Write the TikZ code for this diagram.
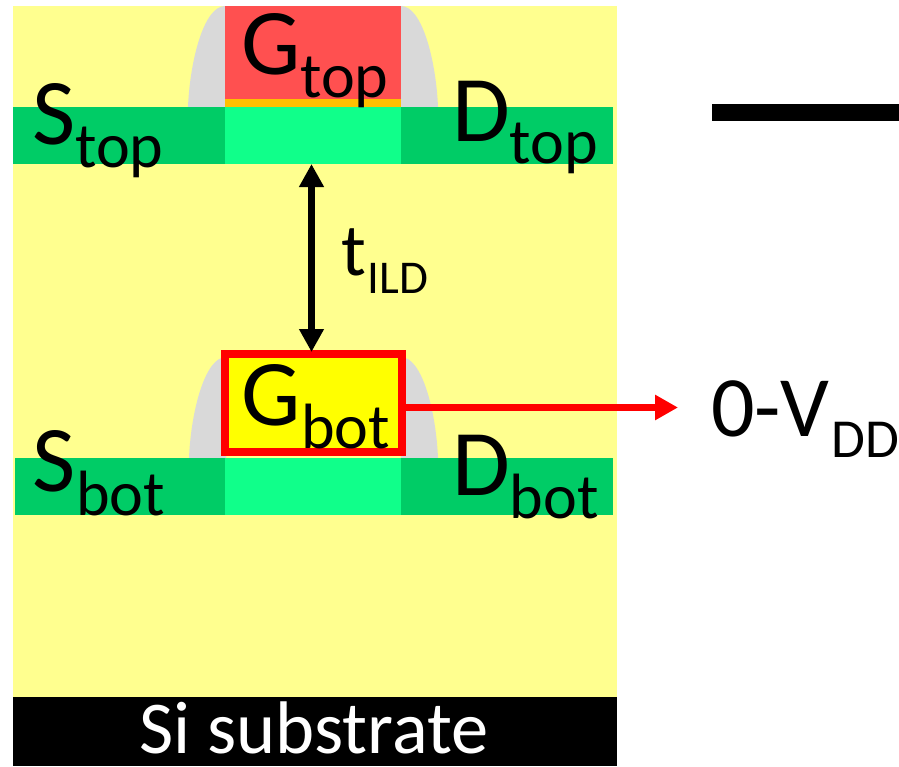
\documentclass[tikz,border=0pt]{standalone}
\usepackage{fontspec}
\setmainfont{Carlito}
\usetikzlibrary{arrows.meta,calc}
\definecolor{oxideY}{HTML}{FFFF8F}
\definecolor{sdG}{HTML}{00CC66}
\definecolor{chanG}{HTML}{10FF8A}
\definecolor{gateR}{HTML}{FF5050}
\definecolor{spacerG}{HTML}{D9D9D9}
\definecolor{gox}{HTML}{FFC000}
\definecolor{gateY}{HTML}{FFFF00}
\definecolor{wireR}{HTML}{FF0000}
\newcommand{\bigtxt}[3][-23pt]{{\fontsize{94}{94}\selectfont #2\raisebox{#1}{\fontsize{64}{64}\selectfont #3}}}
\tikzset{
  region/.style={draw=none,inner sep=0pt,outer sep=0pt,anchor=north west},
  label/.style={inner sep=0pt,outer sep=0pt,anchor=base west,text=black},
  spacer/.style={fill=spacerG,draw=none},
}
\begin{document}
\begin{tikzpicture}[x=1pt,y=-1pt]
\useasboundingbox (0,0) rectangle (899,766);
% dielectric and substrate
\node[region,fill=oxideY,minimum width=604pt,minimum height=691pt] (ild) at (13,6) {};
\node[region,fill=black,minimum width=604pt,minimum height=69pt] (sub) at (13,697) {};
\node[anchor=base,text=white,inner sep=0pt,font=\fontsize{74.5}{74.5}\selectfont] (subtxt) at (314,753) {Si substrate};
% top device
\fill[spacer] (188,107) .. controls (190,60) and (204,6) .. (225,6) -- (225,107) -- cycle;
\fill[spacer] (438,107) .. controls (436,60) and (422,6) .. (401,6) -- (401,107) -- cycle;
\node[region,fill=gateR,minimum width=176pt,minimum height=93pt] (gtop) at (225,6) {};
\node[region,fill=gox,minimum width=176pt,minimum height=8pt] (oxtop) at (225,99) {};
\node[region,fill=sdG,minimum width=212pt,minimum height=57pt] (stop) at (13,107) {};
\node[region,fill=sdG,minimum width=212pt,minimum height=57pt] (dtop) at (401,107) {};
\node[region,fill=chanG,minimum width=176pt,minimum height=57pt] (ctop) at (225,107) {};
% bottom device
\fill[spacer] (189,458) .. controls (191,411) and (205,357) .. (226,357) -- (226,458) -- cycle;
\fill[spacer] (438,458) .. controls (436,411) and (422,357) .. (401,357) -- (401,458) -- cycle;
\node[region,fill=sdG,minimum width=210pt,minimum height=57pt] (sbot) at (15,458) {};
\node[region,fill=sdG,minimum width=212pt,minimum height=57pt] (dbot) at (401,458) {};
\node[region,fill=chanG,minimum width=176pt,minimum height=57pt] (cbot) at (225,458) {};
\node[region,fill=gateY,draw=wireR,line width=8pt,minimum width=177pt,minimum height=98pt] (gbot) at (225,354) {};
% labels
\node[label] (lgtop) at (241,74) {\bigtxt{G}{top}};
\node[label] (lstop) at (32,144) {\bigtxt{S}{top}};
\node[label] (ldtop) at (452,141) {\bigtxt[-22pt]{D}{top}};
\node[label] (lgbot) at (241,425) {\bigtxt{G}{\kern1pt bot}};
\node[label] (lsbot) at (32,491) {\bigtxt[-24pt]{S}{\kern1pt bot}};
\node[label] (ldbot) at (452,495) {\bigtxt{D}{bot}};
\node[label] (ltild) at (341,275) {{\fontsize{74}{74}\selectfont t\raisebox{-18pt}{\fontsize{47}{47}\selectfont\kern2pt ILD}}};
\node[label] (lvdd) at (711,436) {{\fontsize{86}{86}\selectfont 0-V\raisebox{-21pt}{\fontsize{55}{55}\selectfont\kern2pt DD}}};
% connectors
\draw[{Triangle[length=23pt,width=23.5pt]}-{Triangle[length=23pt,width=23.5pt]},line width=7.5pt,black,shorten >=2pt]
  (ctop.south -| 311.5,0) -- (gbot.north -| 311.5,0);
\coordinate (redend) at (678,407.5);
\draw[-{Triangle[length=23pt,width=24pt]},line width=7pt,wireR] (gbot.east |- redend) -- (redend);
% bar
\node[region,fill=black,minimum width=187pt,minimum height=17pt] (bar) at (712,104) {};
\end{tikzpicture}
\end{document}
